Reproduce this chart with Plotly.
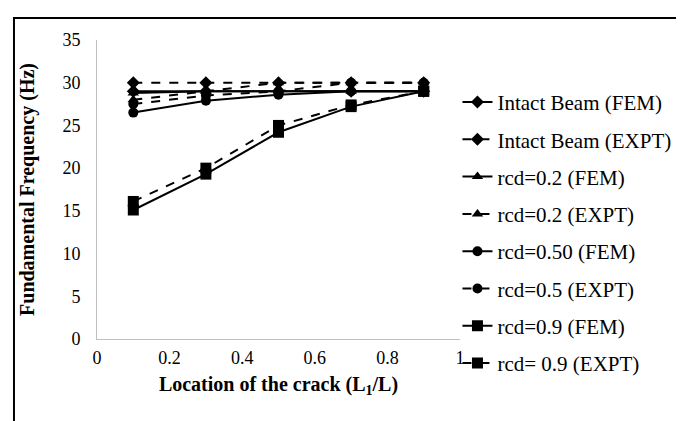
import plotly.graph_objects as go

x_loc = [0.1, 0.3, 0.5, 0.7, 0.9]

intact_fem = [29.0, 29.0, 29.0, 29.0, 29.0]
intact_expt = [30.0, 30.0, 30.0, 30.0, 30.0]
rcd02_fem = [28.8, 29.0, 29.0, 29.0, 29.0]
rcd02_expt = [28.0, 29.0, 30.0, 30.0, 30.0]
rcd05_fem = [26.5, 27.9, 28.6, 29.0, 29.0]
rcd05_expt = [27.5, 28.5, 29.0, 30.0, 30.0]
rcd09_fem = [15.1, 19.3, 24.2, 27.2, 29.0]
rcd09_expt = [16.1, 20.0, 25.0, 27.4, 29.0]

series = [
    ("Intact Beam (FEM)", intact_fem, "solid", "diamond"),
    ("Intact Beam (EXPT)", intact_expt, "dash", "diamond"),
    ("rcd=0.2 (FEM)", rcd02_fem, "solid", "triangle-up"),
    ("rcd=0.2 (EXPT)", rcd02_expt, "dash", "triangle-up"),
    ("rcd=0.50 (FEM)", rcd05_fem, "solid", "circle"),
    ("rcd=0.5 (EXPT)", rcd05_expt, "dash", "circle"),
    ("rcd=0.9 (FEM)", rcd09_fem, "solid", "square"),
    ("rcd= 0.9 (EXPT)", rcd09_expt, "dash", "square"),
]

fig = go.Figure()
for i, (name, ys, dash, sym) in enumerate(series):
    fig.add_trace(go.Scatter(
        x=x_loc, y=ys, name=name, mode="lines+markers",
        line=dict(color="black", width=2, dash=dash),
        marker=dict(symbol=sym, size=10 if sym != "square" else 11, color="black"),
        legendgroup=f"g{i}",
    ))

font_family = "Liberation Serif"

fig.update_layout(
    width=684, height=421,
    margin=dict(l=89, r=232, t=32, b=90, autoexpand=False),
    paper_bgcolor="white", plot_bgcolor="white",
    font=dict(family=font_family, size=18, color="black"),
    showlegend=True,
    legend=dict(
        x=0.993, y=0.86, xanchor="left", yanchor="top",
        font=dict(family=font_family, size=21, color="black"),
        tracegroupgap=7, bgcolor="rgba(0,0,0,0)",
        itemwidth=30, maxheight=360,
    ),
    xaxis=dict(
        range=[0, 1], tickvals=[0, 0.2, 0.4, 0.6, 0.8, 1],
        ticktext=["0", "0.2", "0.4", "0.6", "0.8", "1"],
        showgrid=False, zeroline=False, showline=True,
        linecolor="#bfbfbf", linewidth=1, ticks="",
        ticklabelstandoff=2,
        tickfont=dict(family=font_family, size=18),
        title=dict(text="<b>Location of the crack (L<sub>1</sub>/L)</b>",
                   font=dict(family=font_family, size=20), standoff=10),
    ),
    yaxis=dict(
        range=[0, 35], tickvals=[0, 5, 10, 15, 20, 25, 30, 35],
        showgrid=False, zeroline=False, showline=True,
        linecolor="#bfbfbf", linewidth=1, ticks="",
        ticklabelstandoff=12,
        tickfont=dict(family=font_family, size=18),
        title=dict(text="<b>Fundamental Frequency (Hz)</b>",
                   font=dict(family=font_family, size=20), standoff=22),
    ),
    shapes=[dict(
        type="rect", xref="paper", yref="paper",
        x0=-0.2287, x1=1.7, y0=-0.35, y1=1.0736,
        line=dict(color="black", width=2), fillcolor="rgba(0,0,0,0)",
        layer="below",
    )],
)

fig.write_html("out.html")
